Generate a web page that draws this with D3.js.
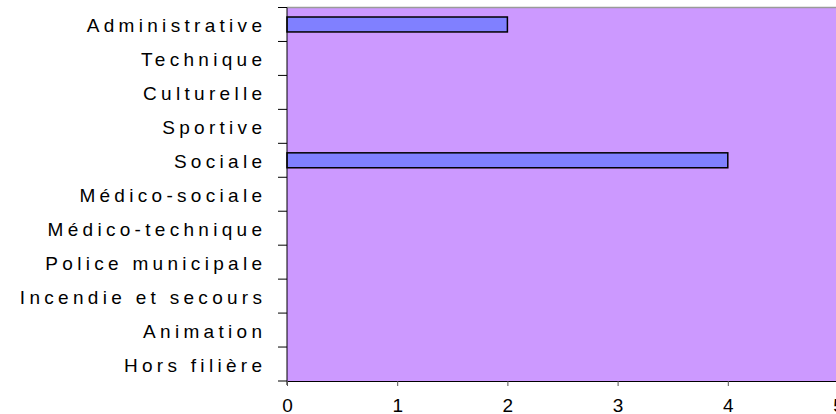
<!DOCTYPE html>
<html lang="fr">
<head>
  <meta charset="UTF-8">
  <title>Filières</title>
  <style>
    body, html {
      margin: 0;
      padding: 0;
      background: #fff;
      overflow: hidden;
    }
    svg text {
      font-family: "Liberation Sans", Arial, sans-serif;
      fill: #000;
    }
  </style>
</head>
<body>
  <svg id="svg" width="836" height="414"></svg>

  <script src="https://cdn.jsdelivr.net/npm/d3@7"></script>
  <script>
    // categories and values
    const categories = [
      'Administrative', 'Technique', 'Culturelle', 'Sportive', 'Sociale',
      'Médico-sociale', 'Médico-technique', 'Police municipale',
      'Incendie et secours', 'Animation', 'Hors filière'
    ]
    const values = [2, 0, 0, 0, 4, 0, 0, 0, 0, 0, 0]
    const xTicks = [0, 1, 2, 3, 4, 5]

    const data = categories.map((c, i) => ({ label: c, value: values[i] }))

    const plotLeft = 287
    const plotRight = 838
    const plotTop = 7.5
    const plotBottom = 381

    const svg = d3.select('#svg')

    const x = d3.scaleLinear()
      .domain([0, 5])
      .range([plotLeft, plotRight])

    const y = d3.scaleBand()
      .domain(categories)
      .range([plotTop, plotBottom])
      .paddingInner(0.56)
      .paddingOuter(0.28)

    // plot background
    svg.append('rect')
      .attr('x', plotLeft)
      .attr('y', plotTop)
      .attr('width', plotRight - plotLeft)
      .attr('height', plotBottom - plotTop)
      .attr('fill', '#cc99ff')

    // top border (grey)
    svg.append('line')
      .attr('x1', plotLeft).attr('x2', plotRight)
      .attr('y1', plotTop).attr('y2', plotTop)
      .attr('stroke', '#9a9a9a')
      .attr('stroke-width', 1.5)

    // bars
    svg.append('g')
      .selectAll('rect')
      .data(data.filter(d => d.value > 0))
      .enter()
      .append('rect')
      .attr('x', x(0))
      .attr('y', d => y(d.label))
      .attr('width', d => x(d.value) - x(0))
      .attr('height', y.bandwidth())
      .attr('fill', '#8080ff')
      .attr('stroke', '#000')
      .attr('stroke-width', 1.5)

    // y axis: category boundary ticks
    const step = y.step()
    const bounds = d3.range(categories.length + 1).map(i => plotTop + i * step)

    const yAxis = svg.append('g')
    yAxis.append('line')
      .attr('x1', plotLeft).attr('x2', plotLeft)
      .attr('y1', plotTop).attr('y2', plotBottom + 4)
      .attr('stroke', '#000')
    yAxis.selectAll('line.tick')
      .data(bounds)
      .enter()
      .append('line')
      .attr('class', 'tick')
      .attr('x1', plotLeft - 9).attr('x2', plotLeft)
      .attr('y1', d => d).attr('y2', d => d)
      .attr('stroke', '#000')

    yAxis.selectAll('text')
      .data(categories)
      .enter()
      .append('text')
      .text(d => d)
      .attr('x', 262 + 4.3)
      .attr('y', d => y(d) + y.bandwidth() / 2)
      .attr('dy', '0.4em')
      .attr('text-anchor', 'end')
      .style('font-size', '19px')
      .style('letter-spacing', '4.3px')

    // x axis
    const xAxis = svg.append('g')
      .attr('transform', `translate(0, ${plotBottom})`)
      .call(d3.axisBottom(x).tickValues(xTicks).tickSize(5).tickPadding(13).tickFormat(d3.format('d')))

    xAxis.select('.domain')
      .attr('d', `M${plotLeft},0.5H${plotRight}`)
      .attr('stroke', '#000')
    xAxis.selectAll('.tick line').attr('stroke', '#555')
    xAxis.selectAll('text')
      .style('font-size', '19px')
      .attr('fill', '#000')
  </script>
</body>
</html>
